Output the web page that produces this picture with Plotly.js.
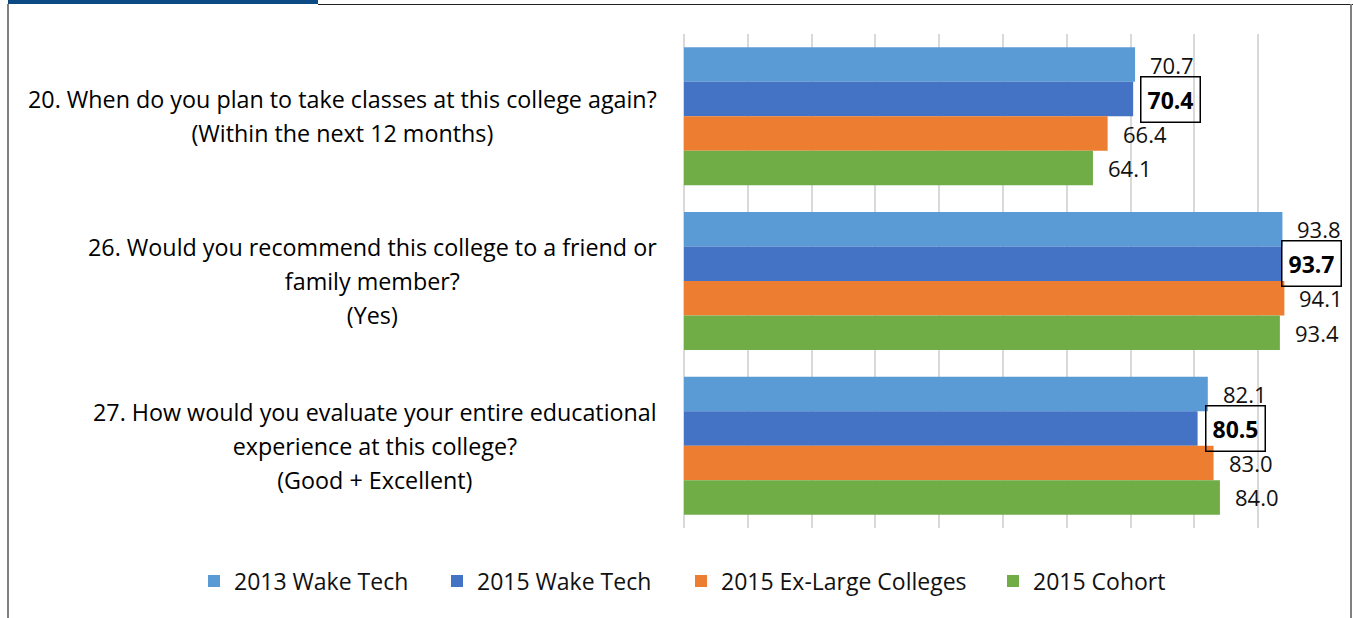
<!DOCTYPE html>
<html>
<head>
<meta charset="utf-8">
<script src="https://cdn.plot.ly/plotly-3.0.1.min.js"></script>
<style>
  html, body { margin: 0; padding: 0; background: #fff; }
  #wrap { position: relative; width: 1353px; height: 618px; overflow: hidden; }
  #chart { position: absolute; left: 0; top: 0; width: 1353px; height: 618px; }
  .frame { position: absolute; pointer-events: none; }
</style>
</head>
<body>
<div id="wrap">
  <div id="chart"></div>
  <div class="frame" style="left:8px;top:0;width:310px;height:4px;background:#0B4A82;"></div>
  <div class="frame" style="left:318px;top:4px;width:1035px;height:1px;background:#222;"></div>
  <div class="frame" style="left:7px;top:4px;width:2px;height:614px;background:#808080;"></div>
  <div class="frame" style="left:1350px;top:4px;width:2px;height:614px;background:#808080;"></div>
</div>
<script>
// ---- data ----
const categoryLines = [
  ['20. When do you plan to take classes at this college again?', '(Within the next 12 months)'],
  ['26. Would you recommend this college to a friend or', 'family member?', '(Yes)'],
  ['27. How would you evaluate your entire educational', 'experience at this college?', '(Good + Excellent)']
];
const seriesNames = ['2013 Wake Tech', '2015 Wake Tech', '2015 Ex-Large Colleges', '2015 Cohort'];
const wakeTech2013 = [70.7, 93.8, 82.1];
const wakeTech2015 = [70.4, 93.7, 80.5];
const exLarge2015 = [66.4, 94.1, 83.0];
const cohort2015 = [64.1, 93.4, 84.0];
const seriesColors = ['#5B9BD5', '#4472C4', '#ED7D31', '#70AD47'];
const highlightedSeries = 1; // boxed bold labels

const seriesValues = [wakeTech2013, wakeTech2015, exLarge2015, cohort2015];
const catPos = categoryLines.map((_, i) => i);

const FONT = '"Open Sans", "Noto Sans", sans-serif';
const bargap = 0.162;
const nSeries = seriesValues.length;
const barW = (1 - bargap) / nSeries;

const W = 1353, H = 618;
const margin = {l: 684, r: 31, t: 34, b: 90, pad: 0};
const xMax = 100;
const plotW = W - margin.l - margin.r;
const plotH = H - margin.t - margin.b;
const pxPerUnit = plotW / xMax;
const maxRightPx = 1345 - margin.l; // keep boxed labels inside the frame
const legendSwatchLeftPx = [208, 451, 695, 1007]; // layout: legend entry positions
const legendY = -(581 - (H - margin.b)) / plotH;

const legendIds = seriesNames.map((_, s) => s === 0 ? 'legend' : 'legend' + (s + 1));

const traces = seriesValues.map((vals, s) => ({
  type: 'bar',
  orientation: 'h',
  name: seriesNames[s],
  legend: legendIds[s],
  x: vals,
  y: catPos,
  marker: {color: seriesColors[s], line: {width: 0}},
  hoverinfo: 'x+name'
}));

const annotations = [];
// category labels
categoryLines.forEach((lines, i) => {
  annotations.push({
    xref: 'paper', yref: 'y', x: 0, y: i,
    xanchor: 'right', yanchor: 'middle', xshift: -25,
    align: 'center', showarrow: false,
    text: lines.map(l => '<span style="font-size:23.3px">' + l + '</span>').join('<br>'),
    font: {family: FONT, size: 26, color: '#000'}
  });
});
// value labels
seriesValues.forEach((vals, s) => {
  vals.forEach((v, i) => {
    const yPos = i + (s - (nSeries - 1) / 2) * barW;
    if (s === highlightedSeries) {
      const boxW = 64;
      const barEnd = v * pxPerUnit;
      const shift = Math.min(7, maxRightPx - boxW - barEnd);
      annotations.push({
        xref: 'x', yref: 'y', x: v, y: yPos,
        xanchor: 'left', yanchor: 'middle', xshift: shift,
        showarrow: false,
        text: '<b>' + v.toFixed(1) + '</b>',
        font: {family: FONT, size: 23, color: '#000'},
        bordercolor: '#000', borderwidth: 1.5, borderpad: 6, bgcolor: 'rgba(255,255,255,0)'
      });
    } else {
      annotations.push({
        xref: 'x', yref: 'y', x: v, y: yPos,
        xanchor: 'left', yanchor: 'middle', xshift: 13,
        showarrow: false,
        text: v.toFixed(1),
        font: {family: FONT, size: 22, color: '#111'}
      });
    }
  });
});

const layout = {
  width: W, height: H,
  margin: margin,
  paper_bgcolor: 'rgba(0,0,0,0)',
  plot_bgcolor: 'rgba(0,0,0,0)',
  barmode: 'group',
  bargap: bargap,
  bargroupgap: 0,
  showlegend: true,
  xaxis: {
    range: [0, xMax], dtick: 10, tick0: 0,
    showgrid: true, gridcolor: '#D9D9D9', gridwidth: 2,
    zeroline: true, zerolinecolor: '#D9D9D9', zerolinewidth: 2,
    showticklabels: false, showline: false, ticks: '', fixedrange: true
  },
  yaxis: {
    range: [categoryLines.length - 0.5, -0.5],
    showgrid: false, zeroline: false, showticklabels: false, ticks: '', showline: false,
    fixedrange: true
  },
  annotations: annotations,
  font: {family: FONT}
};
legendIds.forEach((id, s) => {
  layout[id] = {
    orientation: 'h', xref: 'paper', x: (legendSwatchLeftPx[s] - 14 - margin.l) / plotW, xanchor: 'left',
    yref: 'paper', y: legendY, yanchor: 'middle',
    font: {family: FONT, size: 23, color: '#111'},
    itemwidth: 30, bgcolor: 'rgba(0,0,0,0)'
  };
});

Plotly.newPlot('chart', traces, layout, {displayModeBar: false, staticPlot: true});
</script>
</body>
</html>
